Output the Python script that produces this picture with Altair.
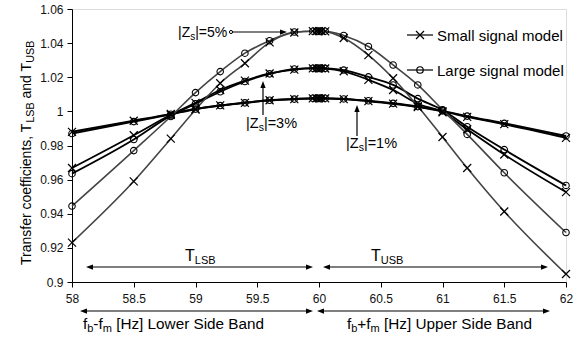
import altair as alt
import pandas as pd

# ---------------- data ----------------
freq = [58, 58.5, 58.8, 59, 59.2, 59.4, 59.6, 59.8, 59.95, 59.98, 60.0, 60.02, 60.05,
        60.2, 60.4, 60.6, 60.8, 61, 61.2, 61.5, 62]

small_1 = [0.988, 0.9945, 0.9985, 1.0015, 1.0035, 1.005, 1.0065, 1.0072, 1.0076, 1.0076, 1.0076,
           1.0076, 1.0076, 1.0072, 1.006, 1.0045, 1.0025, 1.0, 0.9968, 0.9925, 0.9845]
large_1 = [0.987, 0.994, 0.9983, 1.0013, 1.0034, 1.005, 1.0065, 1.0072, 1.0077, 1.0077, 1.0077,
           1.0077, 1.0077, 1.0073, 1.0062, 1.0047, 1.0028, 1.0003, 0.9972, 0.993, 0.9856]
small_3 = [0.9668, 0.986, 0.998, 1.005, 1.0125, 1.018, 1.0222, 1.0245, 1.0252, 1.0252, 1.0252,
           1.0252, 1.0251, 1.0235, 1.0185, 1.0125, 1.0045, 0.9995, 0.9895, 0.9747, 0.9527]
large_3 = [0.9635, 0.9835, 0.9975, 1.0045, 1.0115, 1.0175, 1.022, 1.0248, 1.0253, 1.0253, 1.0253,
           1.0253, 1.0252, 1.0242, 1.0202, 1.0155, 1.0075, 1.0008, 0.991, 0.9776, 0.9566]
small_5 = [0.9231, 0.959, 0.984, 1.001, 1.0165, 1.0282, 1.0404, 1.0462, 1.047, 1.047, 1.047,
           1.047, 1.0469, 1.043, 1.033, 1.0194, 1.003, 0.985, 0.9668, 0.9413, 0.9047]
large_5 = [0.9445, 0.977, 0.997, 1.011, 1.0233, 1.0341, 1.0414, 1.0465, 1.047, 1.047, 1.047,
           1.047, 1.047, 1.0445, 1.038, 1.0272, 1.0155, 1.001, 0.9865, 0.964, 0.929]

models = ["Small signal model", "Large signal model"]
zs_levels = ["1%", "3%", "5%"]
x_ticks = [58, 58.5, 59, 59.5, 60, 60.5, 61, 61.5, 62]
y_ticks = [0.9, 0.92, 0.94, 0.96, 0.98, 1.0, 1.02, 1.04, 1.06]

series = [
    ("Small signal model", "1%", small_1), ("Large signal model", "1%", large_1),
    ("Small signal model", "3%", small_3), ("Large signal model", "3%", large_3),
    ("Small signal model", "5%", small_5), ("Large signal model", "5%", large_5),
]
rows = []
for model, zs, vals in series:
    for f, t in zip(freq, vals):
        rows.append({"f": f, "T": t, "model": model, "zs": zs, "key": model + zs})
df = pd.DataFrame(rows)

FONT = "Liberation Sans"
PADL, PADT = 72, 9
W, H = 494, 273

# Arial / Liberation Sans advance widths (per 1000 em)
CW = {' ': 278, '|': 260, 'Z': 611, 's': 500, '=': 584, '5': 556, '%': 889, '1': 556, '3': 556,
      'T': 611, 'L': 556, 'S': 667, 'B': 667, 'U': 722, 'f': 278, 'b': 556, '-': 333, 'm': 833,
      '+': 584, '[': 278, 'H': 722, 'z': 500, ']': 278, 'o': 556, 'w': 722, 'e': 556, 'r': 333,
      'i': 222, 'd': 556, 'a': 556, 'n': 556, 'p': 556, 'l': 222, 'u': 556, 'c': 500, 't': 278,
      ',': 278, 'g': 556}


def tw(s, size):
    return sum(CW.get(c, 556) for c in s) * size / 1000.0


def rich(x, y, parts, size, sub_size, sub_dy):
    """horizontal text runs; x,y page coords of baseline start"""
    out = []
    pos = x
    for txt, sub in parts:
        fs = sub_size if sub else size
        lead = len(txt) - len(txt.lstrip(" "))
        pos += tw(" " * lead, fs)
        body = txt.lstrip(" ")
        out.append({"px": pos - PADL, "py": y - PADT + (sub_dy if sub else 0), "t": body, "fs": fs})
        pos += tw(body, fs)
    return out


def rich_up(x, y, parts, size, sub_size, sub_dx):
    out = []
    pos = y
    for txt, sub in parts:
        fs = sub_size if sub else size
        lead = len(txt) - len(txt.lstrip(" "))
        pos -= tw(" " * lead, fs)
        body = txt.lstrip(" ")
        out.append({"px": x - PADL + (sub_dx if sub else 0), "py": pos - PADT, "t": body, "fs": fs})
        pos -= tw(body, fs)
    return out


texts = []
texts += rich(178, 36.5, [("|Z", False), ("s", True), ("|=5%", False)], 14, 10, 3)
texts += rich(246, 128, [("|Z", False), ("s", True), ("|=3%", False)], 14.5, 10.5, 3)
texts += rich(346, 148, [("|Z", False), ("s", True), ("|=1%", False)], 14.5, 10.5, 3)
texts += rich(185, 260.5, [("T", False), ("LSB", True)], 16, 11, 3.5)
texts += rich(371, 260.5, [("T", False), ("USB", True)], 16, 11, 3.5)
texts += rich(83, 329, [("f", False), ("b", True), ("-f", False), ("m", True),
                        (" [Hz] Lower Side Band", False)], 15.3, 11, 3)
texts += rich(347, 329, [("f", False), ("b", True), ("+f", False), ("m", True),
                         (" [Hz] Upper Side Band", False)], 15.3, 11, 3)
texts += rich(437, 40.5, [("Small signal model", False)], 15, 11, 0)
texts += rich(437, 75.5, [("Large signal model", False)], 15, 11, 0)
tdf = pd.DataFrame(texts)

ytitle = pd.DataFrame(rich_up(30.5, 265, [("Transfer coefficients, T", False), ("LSB", True),
                                          (" and T", False), ("USB", True)], 14, 10.7, 3))

# arrow shafts (page coords)
shafts = [
    (232, 32, 283, 32),
    (263, 115, 263, 86),
    (357, 136, 357, 110),
    (90, 267, 309, 267), (327, 267, 544, 267),
    (84, 311, 309, 311), (321, 311, 546, 311),
    (407, 35, 433, 35), (407, 70, 433, 70),
]
sdf = pd.DataFrame([{"x1": a - PADL, "y1": b - PADT, "x2": c - PADL, "y2": d - PADT}
                    for a, b, c, d in shafts])

RIGHT = "M1,0L-1,-0.75L-1,0.75Z"
LEFT = "M-1,0L1,-0.75L1,0.75Z"
UP = "M0,-1L-0.75,1L0.75,1Z"
R = 3.5
heads = [
    (287 - R, 32, RIGHT), (263, 81 + R, UP), (357, 105 + R, UP),
    (86 + R, 267, LEFT), (313 - R, 267, RIGHT), (323 + R, 267, LEFT), (548 - R, 267, RIGHT),
    (80 + R, 311, LEFT), (313 - R, 311, RIGHT), (317 + R, 311, LEFT), (550 - R, 311, RIGHT),
]
hdf = pd.DataFrame([{"px": a - PADL, "py": b - PADT, "s": s} for a, b, s in heads])

XPATH = "M-1,-1L1,1M-1,1L1,-1"
leg = pd.DataFrame([
    {"px": 420 - PADL, "py": 35 - PADT, "s": XPATH, "sz": 64},
    {"px": 420 - PADL, "py": 70 - PADT, "s": "circle", "sz": 42},
])
dot = pd.DataFrame([{"px": 231 - PADL, "py": 32 - PADT}])

# ---------------- chart ----------------
xscale = alt.Scale(domain=[58, 62], nice=False, zero=False)
yscale = alt.Scale(domain=[0.9, 1.06], nice=False, zero=False)
xaxis = alt.Axis(values=x_ticks, format="~g", title=None)
yaxis = alt.Axis(values=y_ticks, format="~g", title=None)

X = alt.X("f:Q", scale=xscale, axis=xaxis)
Y = alt.Y("T:Q", scale=yscale, axis=yaxis)

base = alt.Chart(df)
lines = base.mark_line(interpolate="monotone").encode(
    x=X, y=Y,
    detail="key:N",
    color=alt.Color("zs:N", scale=alt.Scale(domain=zs_levels, range=["#000000", "#000000", "#444444"]),
                    legend=None),
    strokeWidth=alt.StrokeWidth("zs:O", scale=alt.Scale(domain=zs_levels, range=[2.0, 1.6, 0.8]),
                                legend=None),
)
crosses = base.transform_filter(alt.datum.model == models[0]).mark_point(
    shape=XPATH, filled=False, color="black", size=64, strokeWidth=1.2, opacity=1
).encode(x=X, y=Y)
circles = base.transform_filter(alt.datum.model == models[1]).mark_point(
    shape="circle", filled=False, color="black", size=42, strokeWidth=1.1, opacity=1
).encode(x=X, y=Y)

PX = alt.X("px:Q", scale=None, axis=None)
PY = alt.Y("py:Q", scale=None, axis=None)

text_layer = alt.Chart(tdf).mark_text(align="left", baseline="alphabetic", color="black",
                                      font=FONT).encode(
    x=PX, y=PY, text="t:N", size=alt.Size("fs:Q", scale=None, legend=None))
ytitle_layer = alt.Chart(ytitle).mark_text(align="left", baseline="alphabetic", color="black",
                                           font=FONT, angle=270).encode(
    x=PX, y=PY, text="t:N", size=alt.Size("fs:Q", scale=None, legend=None))
shaft_layer = alt.Chart(sdf).mark_rule(color="black", strokeWidth=1.2).encode(
    x=alt.X("x1:Q", scale=None, axis=None), x2="x2:Q",
    y=alt.Y("y1:Q", scale=None, axis=None), y2="y2:Q")
head_layer = alt.Chart(hdf).mark_point(filled=True, color="black", size=R * R * 4, opacity=1).encode(
    x=PX, y=PY, shape=alt.Shape("s:N", scale=None, legend=None))
leg_layer = alt.Chart(leg).mark_point(filled=False, color="black", strokeWidth=1.2, opacity=1).encode(
    x=PX, y=PY, shape=alt.Shape("s:N", scale=None, legend=None),
    size=alt.Size("sz:Q", scale=None, legend=None))
dot_layer = alt.Chart(dot).mark_point(shape="circle", filled=False, color="black", size=10,
                                      strokeWidth=1, opacity=1).encode(x=PX, y=PY)

chart = alt.layer(
    lines, crosses, circles, shaft_layer, head_layer, dot_layer, leg_layer, text_layer, ytitle_layer
).properties(
    width=W, height=H,
    autosize=alt.AutoSizeParams(type="none"),
    padding={"left": PADL, "top": PADT, "right": 578 - PADL - W, "bottom": 339 - PADT - H},
).configure_view(strokeWidth=0).configure(font=FONT, background="white").configure_axis(
    grid=False, tickSize=5, labelFontSize=12, labelFont=FONT, labelColor="#111",
    domainColor="black", tickColor="black", labelFlush=False, labelOverlap=False,
    labelSeparation=0, labelBound=False
).configure_axisX(labelPadding=6).configure_axisY(labelPadding=4)

chart.save("out.html", embed_options={"renderer": "svg", "actions": False})
